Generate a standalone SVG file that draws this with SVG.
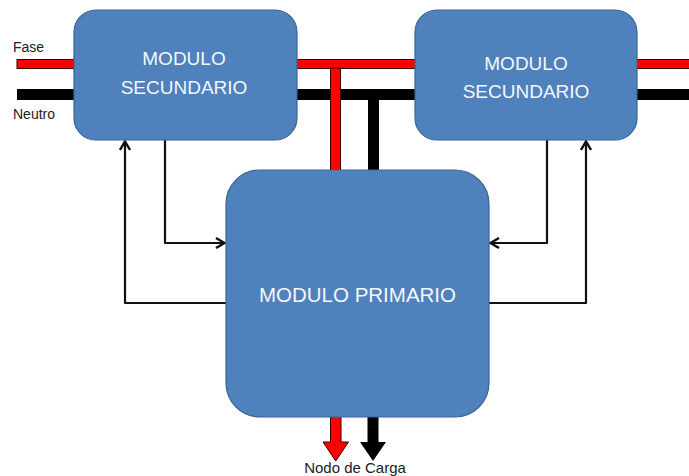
<svg xmlns="http://www.w3.org/2000/svg" width="689" height="476" viewBox="0 0 689 476">
  <style>
    .box { fill: #4F81BD; stroke: #3A6595; stroke-width: 1.2; }
    .lbl { fill: #F4F6FA; font-family: "Liberation Sans", Arial, sans-serif; text-anchor: middle; }
    .txt { fill: #222; font-family: "Liberation Sans", Arial, sans-serif; }
    .fase { fill: #FF0000; stroke: #3a0000; stroke-width: 1; }
    .neutro { fill: #000; }
    .ctl { fill: none; stroke: #111; stroke-width: 2.2; stroke-linejoin: round; }
  </style>
  <defs>
    <marker id="chev" viewBox="0 0 12 12" refX="11" refY="6" markerWidth="12" markerHeight="12" markerUnits="userSpaceOnUse" orient="auto">
      <path d="M2,1 L10.5,6 L2,11" fill="none" stroke="#111" stroke-width="2.4" stroke-linejoin="miter"/>
    </marker>
  </defs>
  <rect width="689" height="476" fill="#fff"/>

  <g id="wires">
    <rect class="fase" x="17" y="59.5" width="675" height="9"/>
    <rect class="neutro" x="17" y="89" width="675" height="11"/>
    <rect class="neutro" x="368" y="89" width="11" height="85"/>
    <rect class="fase" x="330.5" y="68" width="10" height="106"/>
  </g>

  <g id="connectors">
    <path class="ctl" d="M226,303 H125 V141" marker-end="url(#chev)"/>
    <path class="ctl" d="M165,140 V243 H225" marker-end="url(#chev)"/>
    <path class="ctl" d="M547,140 V243 H490" marker-end="url(#chev)"/>
    <path class="ctl" d="M489,303 H586 V141" marker-end="url(#chev)"/>
    <polygon class="fase" points="330.5,416 341,416 341,442 348.5,442 335.75,461 323,442 330.5,442"/>
    <polygon class="neutro" points="367.5,416 378.5,416 378.5,442 386,442 373,461 360,442 367.5,442"/>
  </g>

  <g id="sec1">
    <rect class="box" x="74" y="10" width="223" height="130" rx="22" ry="22"/>
    <text class="lbl" x="184" y="65" font-size="19">MODULO</text>
    <text class="lbl" x="184" y="94" font-size="19">SECUNDARIO</text>
  </g>

  <g id="sec2">
    <rect class="box" x="415" y="10" width="222" height="130" rx="22" ry="22"/>
    <text class="lbl" x="526" y="70" font-size="19">MODULO</text>
    <text class="lbl" x="526" y="98" font-size="19">SECUNDARIO</text>
  </g>

  <g id="primario">
    <rect class="box" x="226" y="170" width="263" height="247" rx="34" ry="34"/>
    <text class="lbl" x="357.5" y="302" font-size="20.5">MODULO PRIMARIO</text>
  </g>

  <g id="labels">
    <text class="txt" x="13" y="52" font-size="14">Fase</text>
    <text class="txt" x="13" y="119" font-size="14">Neutro</text>
    <text class="txt" x="355" y="473" font-size="15" text-anchor="middle">Nodo de Carga</text>
  </g>
</svg>
